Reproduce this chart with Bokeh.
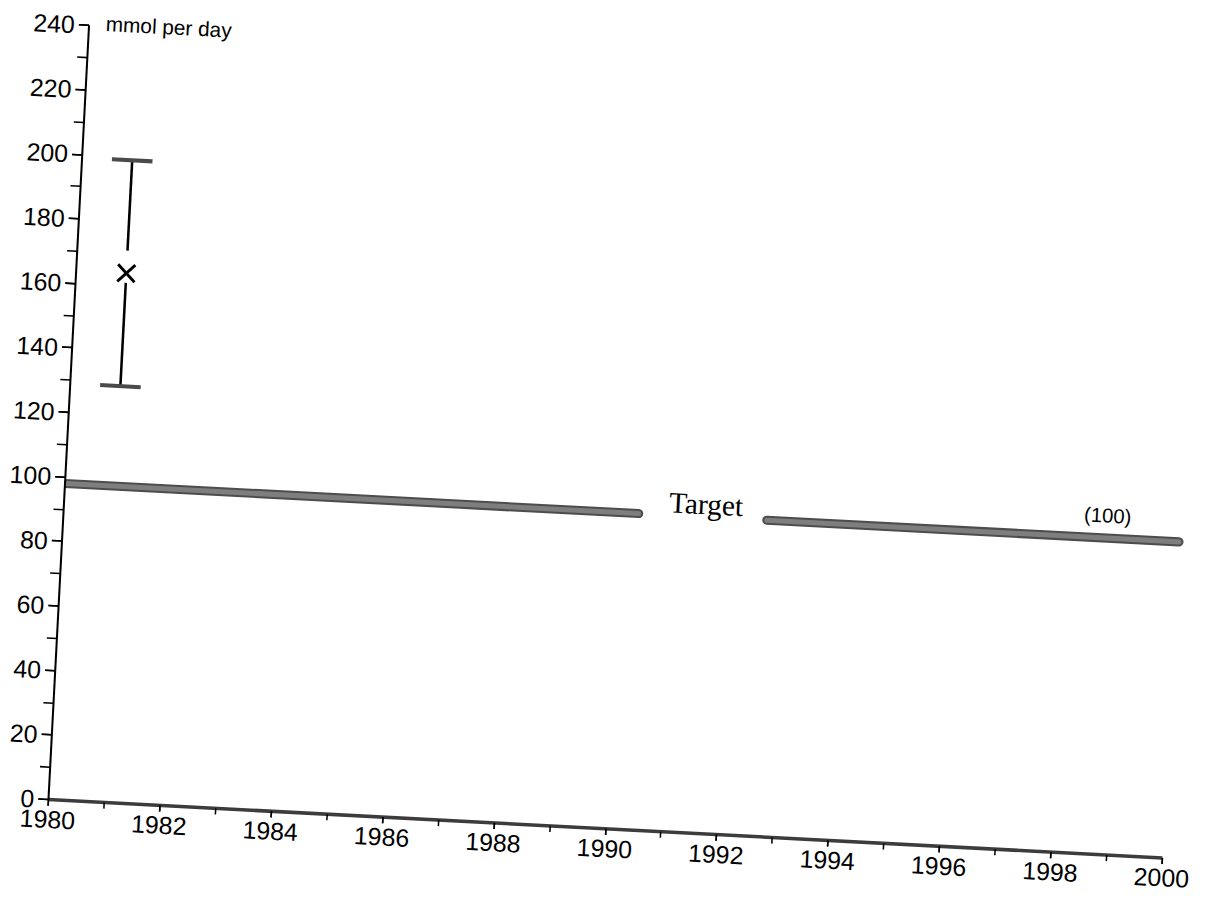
from bokeh.plotting import figure
from bokeh.models import Range1d, SingleIntervalTicker, Label, InlineStyleSheet
from bokeh.embed import file_html
from bokeh.resources import INLINE

# ---------------- data ----------------
x_start, x_end = 1980, 2000
y_start, y_end = 0, 240
err_years = [1980.9]
err_mean = [164]
err_low = [129]
err_high = [199]
target_years = [1980, 2000]
target_level = 98
unit_text = "mmol per day"
target_text = "Target"
target_value_text = "(100)"

# ---------------- style / layout ----------------
SANS = "Liberation Sans"
SERIF = "Liberation Serif"
GAP = (1990.3, 1992.6)             # gap in target line for its label
MARK_GAP_UP, MARK_GAP_DOWN = 7, 3  # whisker gap around the cross
X_PAD, Y_PAD = 0.4, 7              # room beyond the axes' ends (no clipping)

p = figure(width=1190, height=884,
           x_range=Range1d(x_start, x_end + X_PAD),
           y_range=Range1d(y_start, y_end + Y_PAD),
           output_backend="svg", toolbar_location=None,
           min_border_left=57, min_border_right=11,
           min_border_top=20, min_border_bottom=78)
p.xgrid.visible = False
p.ygrid.visible = False
p.outline_line_color = None
p.background_fill_color = "white"
p.border_fill_color = "white"

# the scanned page is slightly rotated: rotate the inner canvas only
p.stylesheets = [InlineStyleSheet(css=(
    ".bk-Canvas { transform: translate(32px, -21px) rotate(3deg) scale(1.015);"
    " transform-origin: 0 0; }"))]

# axes
p.xaxis.bounds = (x_start, x_end)
p.yaxis.bounds = (y_start, y_end)
p.xaxis.ticker = SingleIntervalTicker(interval=2, num_minor_ticks=2)
p.yaxis.ticker = SingleIntervalTicker(interval=20, num_minor_ticks=2)
for ax in (p.xaxis[0], p.yaxis[0]):
    ax.major_tick_in = 0
    ax.minor_tick_in = 0
    ax.major_label_text_font = SANS
    ax.major_label_text_font_size = "24.5px"
    ax.major_label_text_color = "black"
    ax.major_tick_line_color = "black"
    ax.minor_tick_line_color = "black"
    ax.major_tick_line_width = 1.5
    ax.minor_tick_line_width = 1.5
p.xaxis.major_tick_out = 6
p.xaxis.minor_tick_out = 6
p.xaxis.major_label_standoff = 5
p.xaxis.axis_line_color = "#3c3c3c"
p.xaxis.axis_line_width = 3.5
p.yaxis.major_tick_out = 10
p.yaxis.minor_tick_out = 10
p.yaxis.major_label_standoff = 4
p.yaxis.axis_line_color = "black"
p.yaxis.axis_line_width = 2

# target line (two pieces with a gap for the label)
tx0 = [target_years[0], GAP[1]]
tx1 = [GAP[0], target_years[1]]
ty = [target_level, target_level]
p.segment(x0=tx0, y0=ty, x1=tx1, y1=ty, line_color="#4d4d4d",
          line_width=9, line_cap="round")
p.segment(x0=tx0, y0=ty, x1=tx1, y1=ty, line_color="#7e7e7e",
          line_width=5, line_cap="round")

# error bar
up_end = [m + MARK_GAP_UP for m in err_mean]
dn_end = [m - MARK_GAP_DOWN for m in err_mean]
p.segment(x0=err_years, y0=err_high, x1=err_years, y1=up_end,
          line_color="black", line_width=2.5)
p.segment(x0=err_years, y0=dn_end, x1=err_years, y1=err_low,
          line_color="black", line_width=2.5)
p.scatter(x=err_years + err_years, y=err_high + err_low, marker="dash",
          size=40, line_color="#4a4a4a", line_width=4)
p.scatter(x=err_years, y=err_mean, marker="x", size=24,
          line_color="black", line_width=2.8)

# texts
p.add_layout(Label(x=x_start + 0.3, y=240.9, text=unit_text,
                   text_font=SANS, text_font_size="20.5px",
                   text_align="left", text_baseline="alphabetic",
                   text_color="black"))
p.add_layout(Label(x=sum(GAP) / 2 + 0.05, y=target_level + 4, text=target_text,
                   text_font=SERIF, text_font_size="29px",
                   text_align="center", text_baseline="middle",
                   text_color="black"))
p.add_layout(Label(x=1998.7, y=target_level + 7, text=target_value_text,
                   text_font=SANS, text_font_size="20px",
                   text_align="center", text_baseline="middle",
                   text_color="black"))

open("out.html", "w").write(file_html(p, INLINE))
